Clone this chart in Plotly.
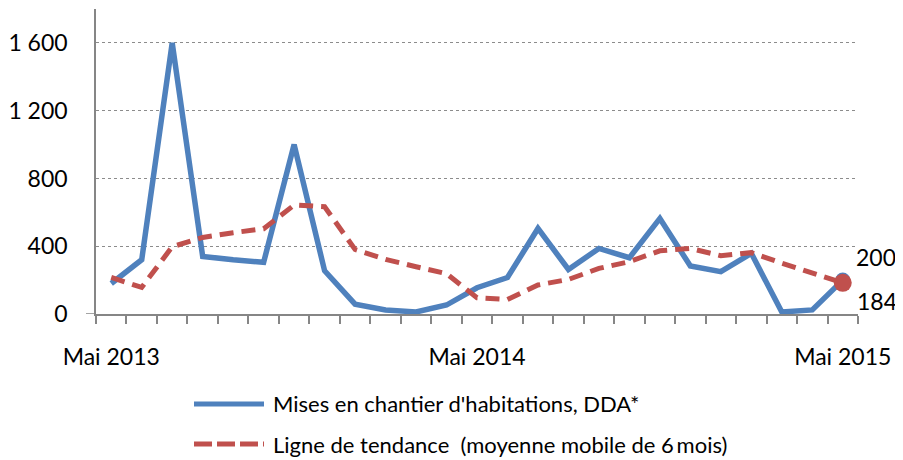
import plotly.graph_objects as go

months = ["Mai 2013", "Juin 2013", "Juil 2013", "Août 2013", "Sept 2013", "Oct 2013",
          "Nov 2013", "Déc 2013", "Janv 2014", "Févr 2014", "Mars 2014", "Avr 2014",
          "Mai 2014", "Juin 2014", "Juil 2014", "Août 2014", "Sept 2014", "Oct 2014",
          "Nov 2014", "Déc 2014", "Janv 2015", "Févr 2015", "Mars 2015", "Avr 2015",
          "Mai 2015"]
mises_en_chantier = [180, 320, 1600, 340, 320, 305, 1000, 255, 58, 24, 12, 53,
                     155, 215, 505, 263, 387, 332, 564, 283, 250, 358, 12, 24, 200]
tendance = [216, 157, 397, 452, 480, 503, 643, 633, 381, 322, 279, 238,
            96, 86, 171, 204, 269, 309, 373, 387, 344, 362, 300, 242, 184]
y_ticks = [0, 400, 800, 1200, 1600]
y_ticktext = ["0", "400", "800", "1 200", "1 600"]
x_label_idx = [0, 12, 24]
x_labels = ["Mai 2013", "Mai 2014", "Mai 2015"]
legend_names = ["Mises en chantier d'habitations, DDA*",
                "Ligne de tendance\u00a0 (moyenne mobile de 6\u2009mois)"]

BLUE = "#4F81BD"
RED = "#C0504D"
GRID = "#8C8C8C"
AXIS = "#868686"
FONT = "Lato"

x = list(range(len(months)))
last = len(months) - 1

fig = go.Figure()
fig.add_trace(go.Scatter(x=x, y=mises_en_chantier, mode="lines", name=legend_names[0],
                         line=dict(color=BLUE, width=5.5), showlegend=False, hoverinfo="skip"))
fig.add_trace(go.Scatter(x=x, y=tendance, mode="lines", name=legend_names[1],
                         line=dict(color=RED, width=5, dash="14px,8px"),
                         showlegend=False, hoverinfo="skip"))
fig.add_trace(go.Scatter(x=[x[last]], y=[mises_en_chantier[last]], mode="markers",
                         marker=dict(color=BLUE, size=15), showlegend=False, hoverinfo="skip"))
fig.add_trace(go.Scatter(x=[x[last]], y=[tendance[last]], mode="markers",
                         marker=dict(color=RED, size=18), showlegend=False, hoverinfo="skip"))

# data labels at last point
fig.add_annotation(x=x[last], y=mises_en_chantier[last], text=str(mises_en_chantier[last]),
                   xref="x", yref="y", showarrow=False, xanchor="left", yanchor="middle",
                   xshift=11, yshift=23, font=dict(family=FONT, size=23, color="#000"))
fig.add_annotation(x=x[last], y=tendance[last], text=str(tendance[last]),
                   xref="x", yref="y", showarrow=False, xanchor="left", yanchor="middle",
                   xshift=12, yshift=-18, font=dict(family=FONT, size=23, color="#000"))

# manual legend (pixel positions relative to the page, body margin 8px)
PL, PW, PB, PH = 96, 762, 314, 305
def px(v):
    return (v - PL) / PW
def py(v):
    return (PB - v) / PH

for row, (name, color, dash) in enumerate([(legend_names[0], BLUE, "solid"),
                                           (legend_names[1], RED, "18px,5px")]):
    yy = 404 + row * 40
    fig.add_shape(type="line", xref="paper", yref="paper",
                  x0=px(194), x1=px(264), y0=py(yy), y1=py(yy),
                  line=dict(color=color, width=5, dash=dash))
    fig.add_annotation(x=px(271), y=py(yy), xref="paper", yref="paper", text=name,
                       showarrow=False, xanchor="left", yanchor="middle",
                       font=dict(family=FONT, size=22, color="#000"))

# small extension of the x axis line to the left at 0
fig.add_shape(type="line", xref="paper", yref="y", x0=px(86), x1=0, y0=0, y1=0,
              line=dict(color=AXIS, width=1.5))

fig.update_layout(
    width=895, height=452,
    margin=dict(l=88, r=45, t=1, b=146, autoexpand=False),
    paper_bgcolor="white", plot_bgcolor="white",
    font=dict(family=FONT, size=23, color="#000"),
    showlegend=False,
)
fig.update_xaxes(
    range=[-0.5, last + 0.5], automargin=False,
    tickvals=x_label_idx, ticktext=x_labels, ticks="",
    ticklabelstandoff=22,
    showline=True, linecolor=AXIS, linewidth=1.5,
    showgrid=False, zeroline=False,
    minor=dict(tickvals=[i - 0.5 for i in range(len(months) + 1)], ticks="outside",
               ticklen=8, tickcolor=AXIS, tickwidth=1.5, showgrid=False),
    tickfont=dict(family=FONT, size=23, color="#000"),
)
fig.update_yaxes(
    range=[0, 1800], automargin=False,
    tickvals=y_ticks, ticktext=y_ticktext, ticks="",
    ticklabelstandoff=22,
    showline=True, linecolor=AXIS, linewidth=1.5,
    showgrid=True, gridcolor=GRID, griddash="dot", gridwidth=1,
    zeroline=False,
    tickfont=dict(family=FONT, size=23, color="#000"),
)

fig.write_html("out.html")
